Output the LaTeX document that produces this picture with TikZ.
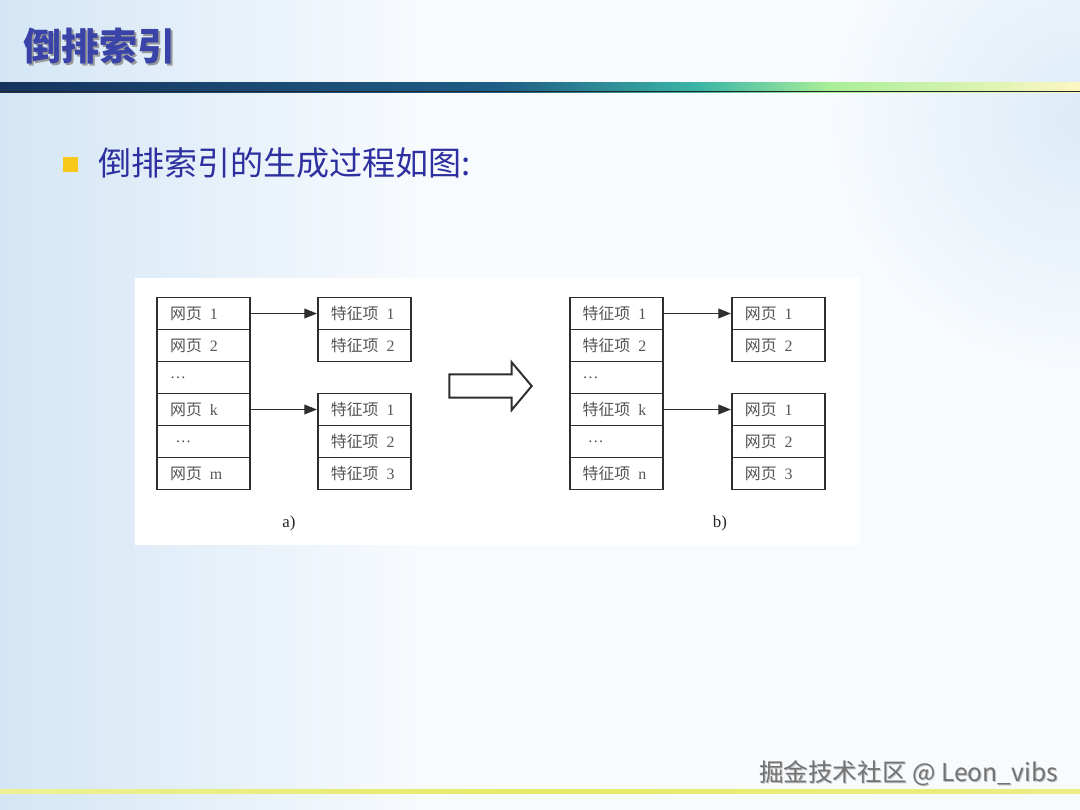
\documentclass[tikz,border=0pt]{standalone}
\usepackage{fontspec}
\setmainfont{Liberation Serif}
\newfontfamily\cjk{Noto Sans CJK SC}
\usetikzlibrary{arrows.meta}
\definecolor{bgbase}{HTML}{F8FBFE}
\definecolor{bgleft}{HTML}{D4E6F5}
\definecolor{titleblue}{HTML}{3A44A8}
\definecolor{bulletblue}{HTML}{2E30A0}
\definecolor{bulletyellow}{HTML}{F8C81A}
\definecolor{boxline}{HTML}{2E2E2E}
\definecolor{celltext}{HTML}{555555}
\definecolor{barA}{HTML}{16335F}
\definecolor{barB}{HTML}{1E5E86}
\definecolor{barC}{HTML}{3CB6A6}
\definecolor{barD}{HTML}{A8EE98}
\definecolor{barE}{HTML}{FDF7C2}
\definecolor{yline}{HTML}{E6EA66}
\newcommand\wy{{\cjk 网页}}
\newcommand\tz{{\cjk 特征项}}
\begin{document}
\begin{tikzpicture}[x=0.025cm,y=-0.025cm,
  cell/.style={draw=boxline, line width=1.4pt, fill=white,
    minimum width=2.325cm, minimum height=0.8cm, text width=1.675cm,
    inner xsep=0.325cm, inner ysep=0pt, align=left, text=celltext,
    font=\fontsize{11.3}{13}\selectfont},
  conn/.style={draw=boxline, line width=0.9pt, -{Triangle[length=9pt,width=7pt]}},
  lbl/.style={inner sep=0pt, font=\fontsize{12}{14}\selectfont, text=black!85}]
\useasboundingbox (0,0) rectangle (1080,810);
% background
\fill[bgbase] (0,0) rectangle (1080,810);
\shade[left color=bgleft, right color=bgbase] (0,0) rectangle (430,810);
\shade[inner color=bgleft!75!bgbase, outer color=bgbase] (1080,120) circle (260);
\fill[bgbase] (0,0) rectangle (0,0);
% title bar
\shade[left color=barA, right color=barB] (0,82) rectangle (500,92);
\shade[left color=barB, right color=barC] (500,82) rectangle (700,92);
\shade[left color=barC, right color=barD] (700,82) rectangle (830,92);
\shade[left color=barD, right color=barE] (830,82) rectangle (1080,92);
\draw[black!85, line width=0.6pt] (0,91.5) -- (1080,91.5);
% title
\node[anchor=west, inner sep=0pt, text=black!40, font=\cjk\bfseries\fontsize{27}{30}\selectfont] at (25.5,48.5) {倒排索引};
\node[anchor=west, inner sep=0pt, text=titleblue, font=\cjk\bfseries\fontsize{27}{30}\selectfont] (title) at (23,46) {倒排索引};
% bullet
\fill[bulletyellow] (63,157) rectangle (78,172);
\node[anchor=west, inner sep=0pt, text=bulletblue, font=\cjk\fontsize{23.5}{26}\selectfont] (bullet) at (98,163) {倒排索引的生成过程如图:};
% figure panel
\fill[white] (135,278) rectangle (860,545);
% a) left column
\node[cell] (al1) at (203.7,313.5) {\wy\enspace 1};
\node[cell] (al2) at (203.7,345.5) {\wy\enspace 2};
\node[cell] (al3) at (203.7,377.5) {…};
\node[cell] (al4) at (203.7,409.5) {\wy\enspace k};
\node[cell] (al5) at (203.7,441.5) {\ …};
\node[cell] (al6) at (203.7,473.5) {\wy\enspace m};
% a) right boxes
\node[cell] (ar1) at (364.4,313.5) {\tz\enspace 1};
\node[cell] (ar2) at (364.4,345.5) {\tz\enspace 2};
\node[cell] (as1) at (364.4,409.5) {\tz\enspace 1};
\node[cell] (as2) at (364.4,441.5) {\tz\enspace 2};
\node[cell] (as3) at (364.4,473.5) {\tz\enspace 3};
\draw[conn] (al1.east) -- (ar1.west);
\draw[conn] (al4.east) -- (as1.west);
\node[lbl] (la) at (289,523) {a)};
% hollow arrow
\draw[boxline, line width=1.4pt, fill=white, line join=miter]
  (449.3,374.3) -- (511.7,374.3) -- (511.7,362.3) -- (531.7,386) -- (511.7,410) -- (511.7,397.7) -- (449.3,397.7) -- cycle;
% b) left column
\node[cell] (bl1) at (616.2,313.5) {\tz\enspace 1};
\node[cell] (bl2) at (616.2,345.5) {\tz\enspace 2};
\node[cell] (bl3) at (616.2,377.5) {…};
\node[cell] (bl4) at (616.2,409.5) {\tz\enspace k};
\node[cell] (bl5) at (616.2,441.5) {\ …};
\node[cell] (bl6) at (616.2,473.5) {\tz\enspace n};
% b) right boxes
\node[cell] (br1) at (778.4,313.5) {\wy\enspace 1};
\node[cell] (br2) at (778.4,345.5) {\wy\enspace 2};
\node[cell] (bs1) at (778.4,409.5) {\wy\enspace 1};
\node[cell] (bs2) at (778.4,441.5) {\wy\enspace 2};
\node[cell] (bs3) at (778.4,473.5) {\wy\enspace 3};
\draw[conn] (bl1.east) -- (br1.west);
\draw[conn] (bl4.east) -- (bs1.west);
\node[lbl] (lb) at (720,523) {b)};
% bottom line
\shade[left color=yline!70!white, right color=yline] (0,789) rectangle (540,793);
\shade[left color=yline, right color=yline!80!white] (540,789) rectangle (1080,793);
% watermark
\node[anchor=east, inner sep=0pt, text=black!25, font=\cjk\fontsize{17.5}{20}\selectfont] at (1059,774) {掘金技术社区 @ Leon\_vibs};
\node[anchor=east, inner sep=0pt, text=black!55, font=\cjk\fontsize{17.5}{20}\selectfont] (wm) at (1058,773) {掘金技术社区 @ Leon\_vibs};
\end{tikzpicture}
\end{document}
